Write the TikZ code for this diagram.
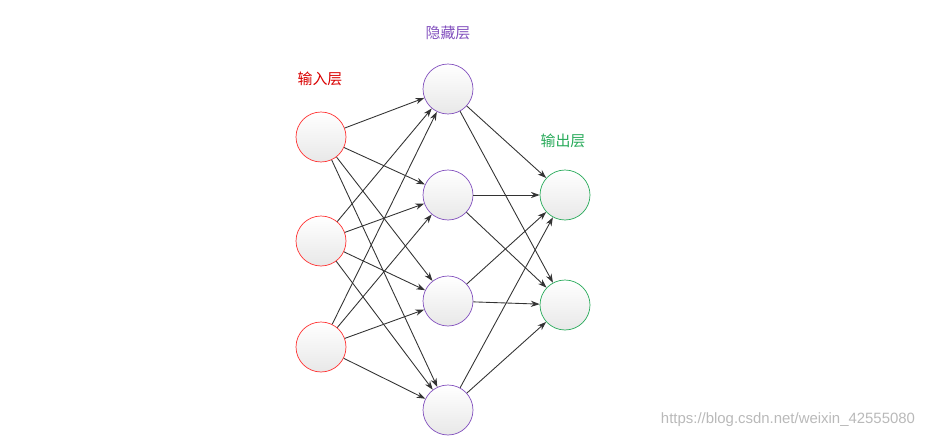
\documentclass[tikz,border=0pt]{standalone}
\usepackage{fontspec}
\newfontfamily\cjk{Noto Sans CJK SC}
\setsansfont{Liberation Sans}
\usetikzlibrary{arrows.meta}
\definecolor{ogreen}{RGB}{40,170,90}
\definecolor{hpurp}{RGB}{130,80,190}
\begin{document}
\begin{tikzpicture}[x=0.02cm,y=-0.02cm,
  neuron/.style={circle,minimum size=1.0cm,inner sep=0pt,draw=#1,top color=white,bottom color=gray!18},
  conn/.style={-{Stealth[length=5pt,width=3.5pt]},black!80,line width=0.5pt},
  lab/.style={font=\cjk\fontsize{8.5pt}{10pt}\selectfont}]
\useasboundingbox (0,0) rectangle (935,439);
\foreach \i/\y in {1/137,2/241,3/347} \node[neuron=red!80] (i\i) at (321,\y) {};
\foreach \i/\y in {1/89,2/195,3/301,4/410} \node[neuron=hpurp] (h\i) at (448,\y) {};
\foreach \i/\y in {1/195,2/305} \node[neuron=ogreen] (o\i) at (565,\y) {};
\node[lab,text=red!85!black] (l1) at (320,79) {输入层};
\node[lab,text=hpurp] (l2) at (448,33) {隐藏层};
\node[lab,text=ogreen] (l3) at (563,141) {输出层};
\foreach \a in {1,2,3} \foreach \b in {1,2,3,4} \draw[conn] (i\a) -- (h\b);
\foreach \a in {1,2,3,4} \foreach \b in {1,2} \draw[conn] (h\a) -- (o\b);
\node[font=\sffamily\fontsize{8.5pt}{9pt}\selectfont,text=gray!55] (wm) at (788,420) {https://blog.csdn.net/weixin\_42555080};
\end{tikzpicture}
\end{document}
